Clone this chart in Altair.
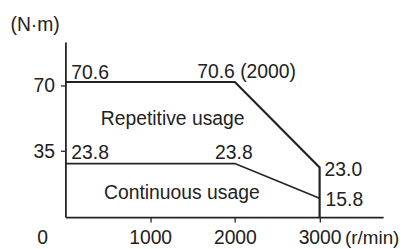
import altair as alt
import pandas as pd

# ---- data ----
rep_speed = [0, 2000, 3000, 3000]
rep_torque = [71.7, 71.7, 26.3, 0]
cont_speed = [0, 2000, 3000]
cont_torque = [28.4, 28.4, 10.0]
x_ticks = [1000, 2000, 3000]
y_ticks = [35, 70]

label_text = ["70.6", "70.6 (2000)", "Repetitive usage", "23.8", "23.8",
              "Continuous usage", "23.0", "15.8", "0"]
label_speed = [0, 2000, 417, 0, 2000, 456, 3000, 3000, 0]
label_torque = [71.7, 71.7, 49.0, 28.4, 28.4, 9.6, 26.3, 10.0, 0]

# ---- styling offsets (pixels) ----
label_dx = [6, -38, 0, 6, -20, 0, 5, 6, -23]
label_dy = [-3.5, -4.5, 0, -4.3, -5, 0, 9, 8, 27]
label_align = ["left"] * 8 + ["center"]

FONT = "Liberation Sans"
INK = "#222222"
FS = 19.5

rep = pd.DataFrame({"speed": rep_speed, "torque": rep_torque, "o": range(len(rep_speed))})
cont = pd.DataFrame({"speed": cont_speed, "torque": cont_torque, "o": range(len(cont_speed))})


def xenc():
    return alt.X("speed:Q", scale=alt.Scale(domain=[0, 3750], nice=False, zero=False),
                 axis=alt.Axis(values=x_ticks, format="d", title="(r/min)", titleAngle=0,
                               titleX=282, titleY=27, titleAlign="left",
                               titleBaseline="alphabetic", titleFontSize=19,
                               titleFontWeight="normal", labelBaseline="alphabetic",
                               labelPadding=22, labelFontSize=FS, grid=False))


def yenc():
    return alt.Y("torque:Q", scale=alt.Scale(domain=[0, 93], nice=False, zero=False),
                 axis=alt.Axis(values=y_ticks, format="d", title="(N·m)", titleAngle=0,
                               titleX=-56, titleY=-12, titleAlign="left",
                               titleBaseline="alphabetic", titleFontSize=FS,
                               titleFontWeight="normal", labelPadding=6,
                               labelFontSize=FS, grid=False))


rep_line = alt.Chart(rep).mark_line(color=INK, strokeWidth=2.2).encode(
    x=xenc(), y=yenc(), order="o:Q")
cont_line = alt.Chart(cont).mark_line(color=INK, strokeWidth=1.6).encode(
    x=xenc(), y=yenc(), order="o:Q")

layers = [rep_line, cont_line]
for t, s, v, dx, dy, al in zip(label_text, label_speed, label_torque, label_dx, label_dy, label_align):
    d = pd.DataFrame({"speed": [s], "torque": [v], "t": [t]})
    layers.append(
        alt.Chart(d).mark_text(align=al, baseline="alphabetic", dx=dx, dy=dy,
                               font=FONT, fontSize=FS, color=INK).encode(
            x=xenc(), y=yenc(), text="t:N"))

chart = alt.layer(*layers).properties(
    width=321, height=177,
    autosize=alt.AutoSizeParams(type="none"),
    padding={"left": 58, "top": 33, "right": 16, "bottom": 31},
    background="white",
).configure_view(stroke=None).configure_axis(
    domainColor=INK, domainWidth=1.8, tickColor=INK, tickWidth=1.3, tickSize=5,
    labelFont=FONT, labelFontSize=FS, labelColor=INK,
    titleFont=FONT, titleColor=INK,
)

chart.save("out.html", embed_options={"renderer": "svg", "actions": False})
